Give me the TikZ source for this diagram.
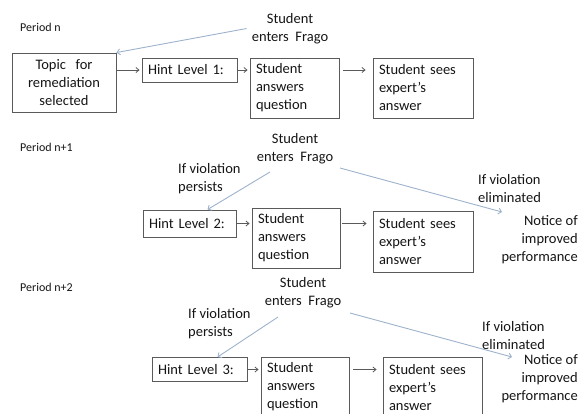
\documentclass[tikz,border=0pt]{standalone}
\usepackage{fontspec}
\setmainfont{Carlito}
\usetikzlibrary{arrows.meta}
\newcommand\bxfont{\fontsize{14.5}{18}\selectfont}
\newcommand\perfont{\fontsize{12}{14}\selectfont}
\definecolor{boxc}{HTML}{5A5A5A}
\definecolor{txtc}{HTML}{151515}
\definecolor{fragc}{HTML}{9DB2CB}
\begin{document}
\begin{tikzpicture}[x=1pt,y=-1pt,
  every node/.style={text=txtc},
  bx/.style={draw=boxc, line width=0.9pt, inner xsep=6pt, inner ysep=0pt, align=left, font=\bxfont},
  lbl/.style={inner sep=0pt, align=left, font=\bxfont},
  per/.style={inner sep=0pt, anchor=west, font=\perfont},
  flow/.style={draw=boxc, line width=0.8pt, -{Straight Barb[length=3pt,width=5pt]}},
  frag/.style={draw=fragc, line width=0.9pt, -{Straight Barb[length=3pt,width=6pt]}}]
\clip (0,0) rectangle (578,413);
% ---------- Period n ----------
\node[per] (p1) at (20,27) {Period n};
\node[lbl, align=center] (f1) at (290,28.5) {Student\\enters~ Frago};
\node[bx, align=center, text width=92pt, minimum height=59pt] (topic) at (64,82.5) {Topic~ for\\remediation\\selected};
\node[bx, text width=83pt, minimum height=24pt] (h1) at (189.5,70) {Hint Level 1:};
\node[bx, text width=77pt, minimum height=60pt] (a1) at (294.5,88) {Student\\answers\\question};
\node[bx, text width=88pt, minimum height=60pt] (s1) at (423,88) {Student sees\\expert's\\answer};
\draw[frag] ([xshift=-5pt]f1.west) -- (topic.north east);
\draw[flow, shorten >=2pt] (topic.east |- h1) -- (h1.west);
\draw[flow, shorten >=2pt] (h1.east) -- (h1.east -| a1.west);
\draw[flow, shorten <=4pt, shorten >=7pt] (a1.east |- h1) -- (s1.west |- h1);
% ---------- Period n+1 ----------
\node[per] (p2) at (20,147) {Period n+1};
\node[lbl, align=center] (f2) at (295,149) {Student\\enters~ Frago};
\node[lbl] (v2) at (178,179) [anchor=west] {If violation\\persists};
\node[lbl] (e2) at (478,189) [anchor=west] {If violation\\eliminated};
\node[lbl, align=right, anchor=east] (n2) at (578,239.5) {Notice of\\improved\\performance};
\node[bx, text width=81pt, minimum height=27pt] (h2) at (189.5,223.5) {Hint Level 2:};
\node[bx, text width=76pt, minimum height=60pt] (a2) at (296,238) {Student\\answers\\question};
\node[bx, text width=88pt, minimum height=61pt] (s2) at (423,241.5) {Student sees\\expert's\\answer};
\coordinate (f2l) at (270,172);
\coordinate (f2r) at (340,168);
\coordinate (n2t) at (502,212);
\draw[frag] (f2l) -- ([xshift=18pt]h2.north);
\draw[frag] (f2r) -- (n2t);
\draw[flow, shorten >=2pt] (h2.east) -- (h2.east -| a2.west);
\draw[flow, shorten <=2pt, shorten >=6pt] (a2.east |- h2) -- (s2.west |- h2);
% ---------- Period n+2 ----------
\node[per] (p3) at (20,287) {Period n+2};
\node[lbl, align=center] (f3) at (303,292.5) {Student\\enters~ Frago};
\node[lbl] (v3) at (188,324) [anchor=west] {If violation\\persists};
\node[lbl] (e3) at (482,336) [anchor=west] {If violation\\eliminated};
\node[lbl, align=right, anchor=east] (n3) at (578,378.5) {Notice of\\improved\\performance};
\node[bx, text width=83pt, minimum height=24pt] (h3) at (199.5,369.5) {Hint Level 3:};
\node[bx, text width=76pt, minimum height=60pt] (a3) at (305,387) {Student\\answers\\question};
\node[bx, text width=87pt, minimum height=60pt] (s3) at (432.5,387.5) {Student sees\\expert's\\answer};
\coordinate (f3l) at (278,317);
\coordinate (f3r) at (350,313);
\coordinate (n3t) at (512,357);
\draw[frag] (f3l) -- ([xshift=18pt]h3.north);
\draw[frag] (f3r) -- (n3t);
\draw[flow, shorten >=2pt] (h3.east) -- (h3.east -| a3.west);
\draw[flow, shorten <=4pt, shorten >=6pt] (a3.east |- h3) -- (s3.west |- h3);
\end{tikzpicture}
\end{document}
